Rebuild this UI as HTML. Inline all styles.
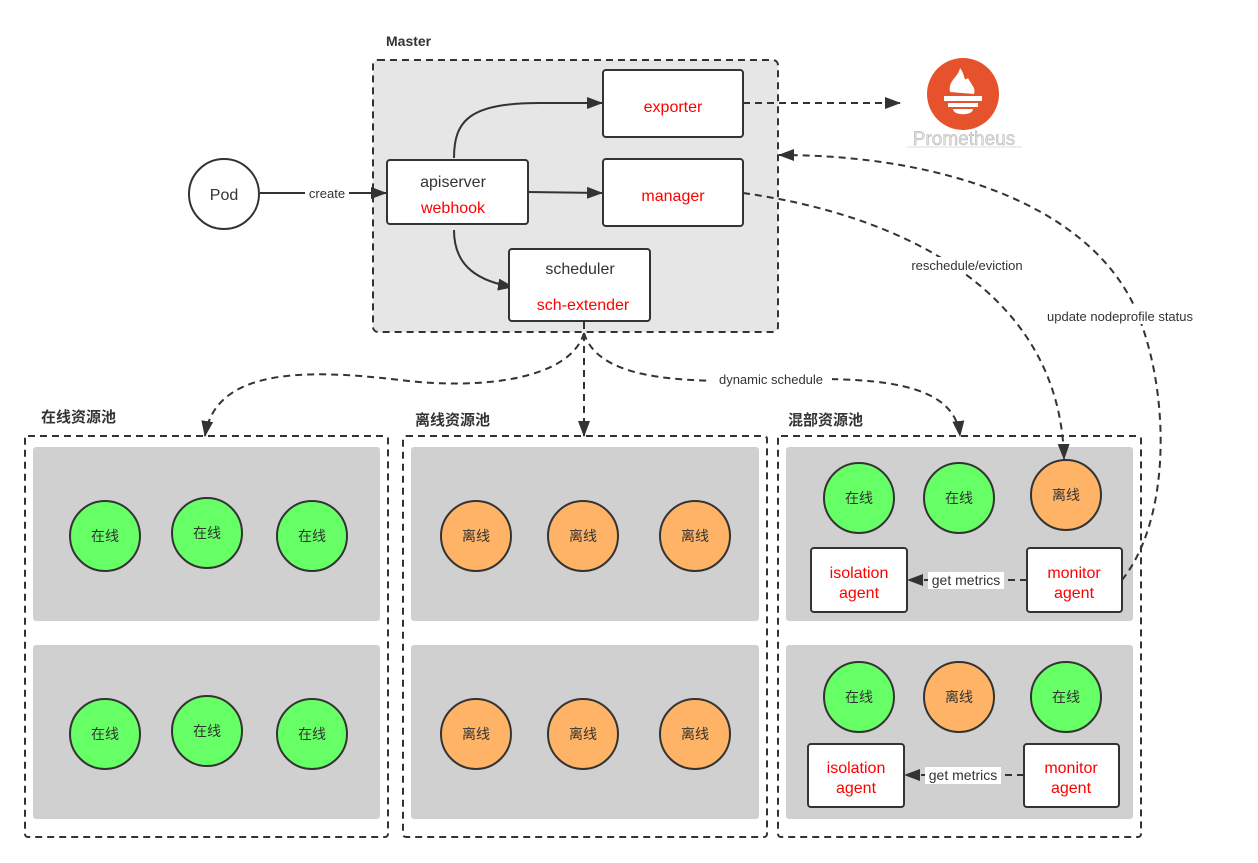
<!DOCTYPE html>
<html><head><meta charset="utf-8"><style>
html,body{margin:0;padding:0;background:#fff;}
svg{display:block;}
text{font-family:"Liberation Sans","Noto Sans CJK SC",sans-serif;}
</style></head><body>
<svg width="1258" height="863" viewBox="0 0 1258 863" xmlns="http://www.w3.org/2000/svg">
<defs>
<marker id="a" markerWidth="16" markerHeight="12" refX="15" refY="6" orient="auto" markerUnits="userSpaceOnUse">
<path d="M0,0 L16,6 L0,12 z" fill="#333"/></marker>
</defs>
<!-- Master -->
<text x="386" y="46" font-size="14" font-weight="bold" fill="#333">Master</text>
<rect x="373" y="60" width="405" height="272" rx="5" fill="#e6e6e6" stroke="#333" stroke-width="2" stroke-dasharray="7,5"/>
<path d="M454,158 C454,120 470,103 540,103 L602,103" fill="none" stroke="#333" stroke-width="2" marker-end="url(#a)"/>
<path d="M528,192 L602,193" fill="none" stroke="#333" stroke-width="2" marker-end="url(#a)"/>
<path d="M454,230 C454,260 470,280 513,287" fill="none" stroke="#333" stroke-width="2" marker-end="url(#a)"/>
<path d="M260,193 L386,193" fill="none" stroke="#333" stroke-width="2" marker-end="url(#a)"/>
<rect x="305" y="185" width="44" height="16" fill="#fff"/>
<text x="327" y="198" font-size="13" fill="#333" text-anchor="middle">create</text>
<circle cx="224" cy="194" r="35" fill="#fff" stroke="#333" stroke-width="2"/>
<text x="224" y="200" font-size="16" fill="#333" text-anchor="middle">Pod</text>
<rect x="603" y="70" width="140" height="67" rx="3" fill="#fff" stroke="#333" stroke-width="2"/>
<text x="673" y="112" font-size="16" fill="#f00" text-anchor="middle">exporter</text>
<rect x="603" y="159" width="140" height="67" rx="3" fill="#fff" stroke="#333" stroke-width="2"/>
<text x="673" y="201" font-size="16" fill="#f00" text-anchor="middle">manager</text>
<rect x="387" y="160" width="141" height="64" rx="3" fill="#fff" stroke="#333" stroke-width="2"/>
<text x="453" y="187" font-size="16" fill="#333" text-anchor="middle">apiserver</text>
<text x="453" y="213" font-size="16" fill="#f00" text-anchor="middle">webhook</text>
<rect x="509" y="249" width="141" height="72" rx="3" fill="#fff" stroke="#333" stroke-width="2"/>
<text x="580" y="274" font-size="16" fill="#333" text-anchor="middle">scheduler</text>
<text x="583" y="310" font-size="16" fill="#f00" text-anchor="middle">sch-extender</text>
<!-- Prometheus -->
<path d="M743,103 L900,103" fill="none" stroke="#333" stroke-width="2" stroke-dasharray="7,5" marker-end="url(#a)"/>
<circle cx="963" cy="94" r="36" fill="#e6522c"/>
<path d="M950,92 C948,80 958,78 960,68 C966,76 963,82 968,78 C972,86 976,88 974,94 Z" fill="#fff"/>
<rect x="944" y="96" width="38" height="5" fill="#fff"/>
<rect x="948" y="103" width="30" height="4" fill="#fff"/>
<path d="M953,109 L973,109 C973,116 953,116 953,109Z" fill="#fff"/>
<text x="964" y="145" font-size="19" fill="#e0e0e0" stroke="#aaa" stroke-width="0.4" text-anchor="middle">Prometheus</text>
<line x1="907" y1="147" x2="1022" y2="147" stroke="#ddd"/>
<!-- pools -->
<text x="41" y="422" font-size="15" font-weight="bold" fill="#333">在线资源池</text>
<text x="415" y="425" font-size="15" font-weight="bold" fill="#333">离线资源池</text>
<text x="788" y="425" font-size="15" font-weight="bold" fill="#333">混部资源池</text>
<rect x="25" y="436" width="363" height="401" rx="3" fill="#fff" stroke="#333" stroke-width="2" stroke-dasharray="7,5"/>
<rect x="403" y="436" width="364" height="401" rx="3" fill="#fff" stroke="#333" stroke-width="2" stroke-dasharray="7,5"/>
<rect x="778" y="436" width="363" height="401" rx="3" fill="#fff" stroke="#333" stroke-width="2" stroke-dasharray="7,5"/>
<g fill="#d0d0d0">
<rect x="33" y="447" width="347" height="174" rx="3"/><rect x="33" y="645" width="347" height="174" rx="3"/>
<rect x="411" y="447" width="348" height="174" rx="3"/><rect x="411" y="645" width="348" height="174" rx="3"/>
<rect x="786" y="447" width="347" height="174" rx="3"/><rect x="786" y="645" width="347" height="174" rx="3"/>
</g>
<!-- long dashed -->
<path d="M743,193 C900,215 1060,290 1064,459" fill="none" stroke="#333" stroke-width="2" stroke-dasharray="7,5" marker-end="url(#a)"/>
<rect x="905" y="257" width="124" height="16" fill="#fff"/>
<text x="967" y="270" font-size="13" fill="#333" text-anchor="middle">reschedule/eviction</text>
<path d="M1122,580 C1170,520 1170,400 1140,320 C1100,210 950,155 779,155" fill="none" stroke="#333" stroke-width="2" stroke-dasharray="7,5" marker-end="url(#a)"/>
<rect x="1032" y="308" width="176" height="16" fill="#fff"/>
<text x="1120" y="321" font-size="13" fill="#333" text-anchor="middle">update nodeprofile status</text>
<!-- scheduler dispatch -->
<path d="M584,322 L584,436" fill="none" stroke="#333" stroke-width="2" stroke-dasharray="7,5" marker-end="url(#a)"/>
<path d="M584,333 C570,380 480,390 400,380 C300,368 215,370 205,436" fill="none" stroke="#333" stroke-width="2" stroke-dasharray="7,5" marker-end="url(#a)"/>
<path d="M584,333 C600,385 700,382 780,380 C900,375 955,390 960,436" fill="none" stroke="#333" stroke-width="2" stroke-dasharray="7,5" marker-end="url(#a)"/>
<rect x="710" y="371" width="122" height="16" fill="#fff"/>
<text x="771" y="384" font-size="13" fill="#333" text-anchor="middle">dynamic schedule</text>
<g stroke="#333" stroke-width="2">
<circle cx="105" cy="536" r="35" fill="#66ff66"/><circle cx="207" cy="533" r="35" fill="#66ff66"/><circle cx="312" cy="536" r="35" fill="#66ff66"/>
<circle cx="105" cy="734" r="35" fill="#66ff66"/><circle cx="207" cy="731" r="35" fill="#66ff66"/><circle cx="312" cy="734" r="35" fill="#66ff66"/>
<circle cx="476" cy="536" r="35" fill="#ffb366"/><circle cx="583" cy="536" r="35" fill="#ffb366"/><circle cx="695" cy="536" r="35" fill="#ffb366"/>
<circle cx="476" cy="734" r="35" fill="#ffb366"/><circle cx="583" cy="734" r="35" fill="#ffb366"/><circle cx="695" cy="734" r="35" fill="#ffb366"/>
<circle cx="859" cy="498" r="35" fill="#66ff66"/><circle cx="959" cy="498" r="35" fill="#66ff66"/><circle cx="1066" cy="495" r="35" fill="#ffb366"/>
<circle cx="859" cy="697" r="35" fill="#66ff66"/><circle cx="959" cy="697" r="35" fill="#ffb366"/><circle cx="1066" cy="697" r="35" fill="#66ff66"/>
</g>
<g font-size="14" fill="#333" text-anchor="middle">
<text x="105" y="541">在线</text><text x="207" y="538">在线</text><text x="312" y="541">在线</text>
<text x="105" y="739">在线</text><text x="207" y="736">在线</text><text x="312" y="739">在线</text>
<text x="476" y="541">离线</text><text x="583" y="541">离线</text><text x="695" y="541">离线</text>
<text x="476" y="739">离线</text><text x="583" y="739">离线</text><text x="695" y="739">离线</text>
<text x="859" y="503">在线</text><text x="959" y="503">在线</text><text x="1066" y="500">离线</text>
<text x="859" y="702">在线</text><text x="959" y="702">离线</text><text x="1066" y="702">在线</text>
</g>
<!-- agents -->
<g fill="#fff" stroke="#333" stroke-width="2">
<rect x="811" y="548" width="96" height="64" rx="3"/><rect x="1027" y="548" width="95" height="64" rx="3"/>
<rect x="808" y="744" width="96" height="63" rx="3"/><rect x="1024" y="744" width="95" height="63" rx="3"/>
</g>
<path d="M1027,580 L908,580" fill="none" stroke="#333" stroke-width="2" stroke-dasharray="7,5" marker-end="url(#a)"/>
<path d="M1024,775 L905,775" fill="none" stroke="#333" stroke-width="2" stroke-dasharray="7,5" marker-end="url(#a)"/>
<rect x="928" y="572" width="76" height="17" fill="#fff"/>
<rect x="925" y="767" width="76" height="17" fill="#fff"/>
<g font-size="14" fill="#333" text-anchor="middle">
<text x="966" y="585">get metrics</text><text x="963" y="780">get metrics</text>
</g>
<g font-size="16" fill="#f00" text-anchor="middle">
<text x="859" y="578">isolation</text><text x="859" y="598">agent</text>
<text x="1074" y="578">monitor</text><text x="1074" y="598">agent</text>
<text x="856" y="773">isolation</text><text x="856" y="793">agent</text>
<text x="1071" y="773">monitor</text><text x="1071" y="793">agent</text>
</g>
</svg>
</body></html>
